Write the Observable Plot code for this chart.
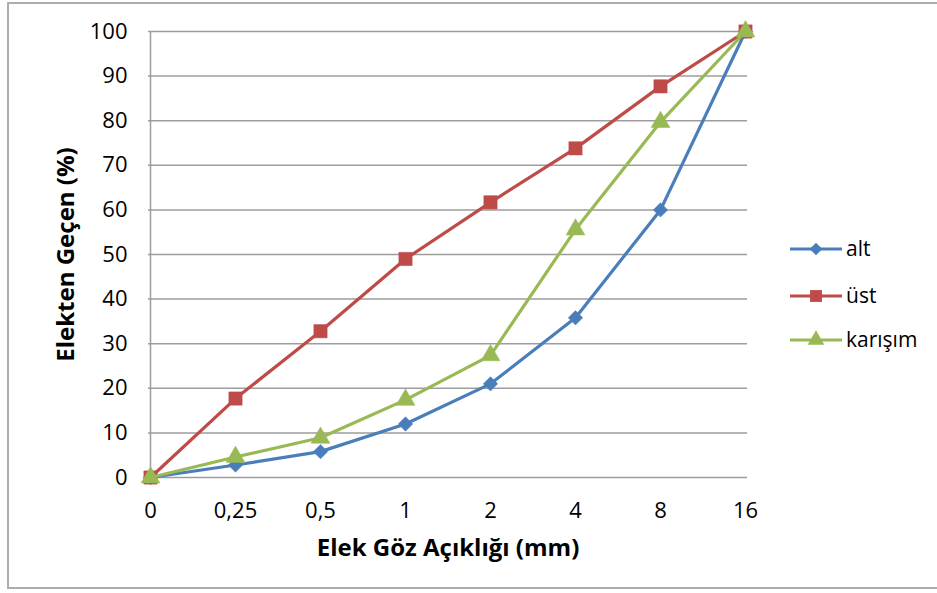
<!DOCTYPE html>
<html>
<head>
<meta charset="utf-8">
<script src="https://cdn.jsdelivr.net/npm/d3@7"></script>
<script src="https://cdn.jsdelivr.net/npm/@observablehq/plot@0.6"></script>
<style>
  body { margin: 0; background: #fff; }
  #wrap { position: relative; width: 937px; height: 593px; overflow: hidden; font-family: "Open Sans", sans-serif; }
  #frame { position: absolute; left: 7px; top: 2px; width: 960px; height: 587px; border: 2px solid #adadad; box-sizing: border-box; }
  #chart, #legend { position: absolute; left: 0; top: 0; }
</style>
</head>
<body>
<div id="wrap">
  <div id="frame"></div>
  <div id="chart"></div>
  <svg id="legend" width="937" height="593"></svg>
</div>
<script>
// Sieve opening sizes (mm), as printed on the x axis
const sieve = ["0", "0,25", "0,5", "1", "2", "4", "8", "16"];

// Cumulative percent passing for each sample
const alt     = [0, 2.8, 5.8, 12, 21, 35.8, 60, 100];
const ust     = [0, 17.7, 32.8, 49, 61.7, 73.8, 87.7, 100];
const karisim = [0, 4.6, 8.9, 17.4, 27.4, 55.6, 79.7, 100];

const seriesNames   = ["alt", "üst", "karışım"];
const seriesColors  = ["#4A7EBB", "#BE4B48", "#98B954"];
const seriesSymbols = ["diamond2", "square", "triangle"];
const seriesRadius  = [6.5, 7.5, 7];

const yTicks = [0, 10, 20, 30, 40, 50, 60, 70, 80, 90, 100];

const xTitle = "Elek Göz Açıklığı (mm)";
const yTitle = "Elekten Geçen (%)";

const seriesValues = [alt, ust, karisim];
const rows = seriesValues.flatMap((vals, i) =>
  vals.map((v, j) => ({ series: seriesNames[i], size: sieve[j], value: v }))
);

// One line + marker layer per series, drawn in legend order
const seriesMarks = seriesNames.flatMap((name, i) => {
  const data = rows.filter(d => d.series === name);
  return [
    Plot.line(data, { x: "size", y: "value", stroke: seriesColors[i], strokeWidth: 3.2 }),
    Plot.dot(data, { x: "size", y: "value", symbol: seriesSymbols[i], r: seriesRadius[i],
                     fill: seriesColors[i], stroke: seriesColors[i], strokeWidth: 0.5 })
  ];
});

const chart = Plot.plot({
  width: 937,
  height: 593,
  marginLeft: 148,
  marginRight: 190,
  marginTop: 31,
  marginBottom: 116,
  style: { fontFamily: "'Open Sans', sans-serif", fontSize: "22px", color: "#000", background: "transparent" },
  x: { type: "point", domain: sieve, padding: 0 },
  y: { domain: [0, 100] },
  marks: [
    Plot.gridY(yTicks, { stroke: "#9d9d9d", strokeOpacity: 1, strokeWidth: 1.5 }),
    Plot.ruleX([sieve[0]], { stroke: "#9d9d9d", strokeWidth: 1.5 }),
    Plot.axisY(yTicks, { tickSize: 0, tickPadding: 21, label: null, fontSize: 22 }),
    Plot.axisX({ tickSize: 0, tickPadding: 25, label: null, fontSize: 22 }),
    ...seriesMarks,
    Plot.text([xTitle], { frameAnchor: "bottom", dy: 78, fontSize: 24, fontWeight: "bold", textAnchor: "middle" }),
    Plot.text([yTitle], { frameAnchor: "left", dx: -82, rotate: -90, fontSize: 24, fontWeight: "bold", textAnchor: "middle" })
  ]
});
document.getElementById("chart").append(chart);

// Legend on the right side
const symbolTypes = { diamond2: d3.symbolDiamond2, square: d3.symbolSquare, triangle: d3.symbolTriangle };
const legend = d3.select("#legend");
const legendY = [249, 296, 340];
seriesNames.forEach((name, i) => {
  const g = legend.append("g").attr("transform", `translate(0,${legendY[i]})`);
  g.append("line").attr("x1", 790).attr("x2", 842).attr("y1", 0).attr("y2", 0)
    .attr("stroke", seriesColors[i]).attr("stroke-width", 3.2);
  const r = seriesRadius[i] - 0.8;
  g.append("path")
    .attr("transform", "translate(816,0)")
    .attr("d", d3.symbol(symbolTypes[seriesSymbols[i]], r * r * Math.PI)())
    .attr("fill", seriesColors[i]);
  g.append("text").attr("x", 846).attr("y", 0).attr("dy", "0.35em")
    .attr("font-family", "'Open Sans', sans-serif").attr("font-size", 21)
    .attr("fill", "#000").text(name);
});
</script>
</body>
</html>
